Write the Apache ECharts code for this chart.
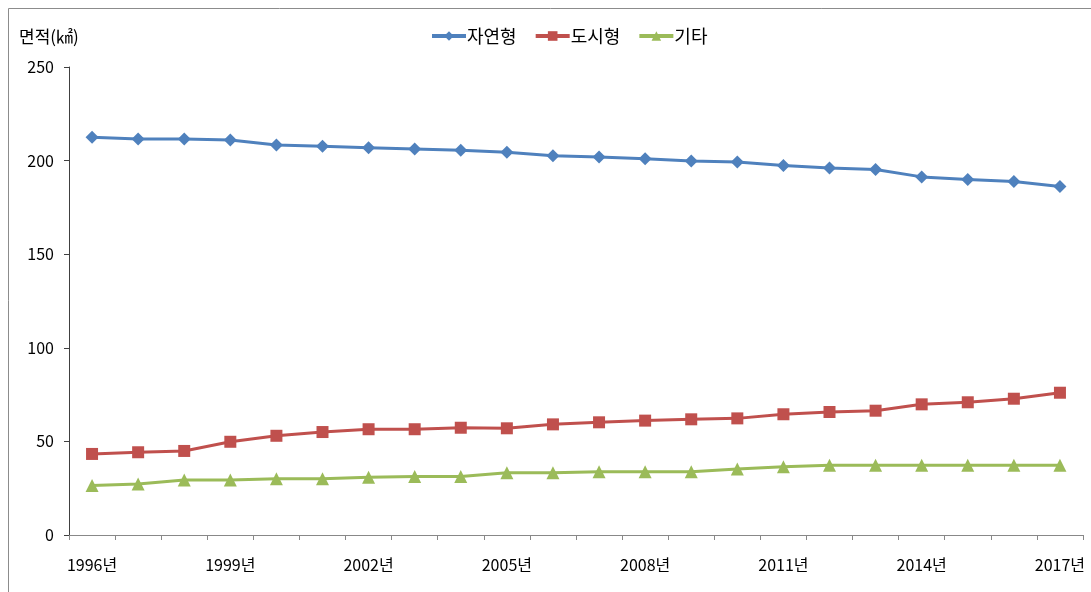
<!DOCTYPE html>
<html>
<head>
<meta charset="utf-8">
<script src="https://cdn.jsdelivr.net/npm/echarts@6/dist/echarts.min.js"></script>
<style>
html,body{margin:0;padding:0;background:#fff;}
#c{width:1091px;height:592px;}
</style>
</head>
<body>
<div id="c"></div>
<script>
const years = ['1996년','1997년','1998년','1999년','2000년','2001년','2002년','2003년','2004년','2005년','2006년','2007년','2008년','2009년','2010년','2011년','2012년','2013년','2014년','2015년','2016년','2017년'];
const natural = [212.5,211.5,211.5,211,208.3,207.6,206.9,206.2,205.5,204.4,202.6,201.9,201,199.8,199.2,197.4,196.0,195.3,191.3,189.9,188.8,186.2];
const urban = [43.3,44.2,44.9,49.8,53,55,56.5,56.5,57.3,57,59.1,60.2,61.1,61.8,62.3,64.5,65.7,66.4,69.8,70.9,72.8,76];
const other = [26.5,27.2,29.4,29.4,30.1,30.1,30.8,31.3,31.3,33.3,33.3,33.8,33.8,33.8,35.3,36.5,37.2,37.2,37.2,37.2,37.2,37.2];
const seriesNames = ['자연형','도시형','기타'];
const yTicks = {min:0, max:250, interval:50};

const font = '"Noto Sans CJK KR", "Noto Sans", sans-serif';
const chart = echarts.init(document.getElementById('c'));
chart.setOption({
  animation:false,
  backgroundColor:'#fff',
  textStyle:{fontFamily:font},
  graphic:[{type:'rect', shape:{x:8.5,y:8.5,width:1100,height:600}, style:{fill:'none',stroke:'#8c8c8c',lineWidth:1}, silent:true}],
  title:{text:'면적(㎢)', left:14, top:23, textStyle:{fontFamily:font,fontSize:17,fontWeight:'normal',color:'#000'}},
  legend:{top:22, left:425, itemWidth:34, itemHeight:12, itemGap:17,
    lineStyle:{width:4},
    textStyle:{fontFamily:font,fontSize:18,color:'#000', padding:[0,0,0,-4]},
    data:seriesNames},
  grid:{left:69, right:8, top:67, bottom:57, containLabel:false},
  xAxis:{type:'category', data:years, boundaryGap:true,
    axisLine:{lineStyle:{color:'#888',width:1}},
    axisTick:{show:true, interval:0, length:5, lineStyle:{color:'#888'}},
    axisLabel:{interval:2, color:'#000', fontSize:16, fontFamily:font, margin:22}},
  yAxis:{type:'value', min:yTicks.min, max:yTicks.max, interval:yTicks.interval,
    splitLine:{show:false},
    axisLine:{show:true, lineStyle:{color:'#404040',width:1}},
    axisTick:{show:true, length:5, lineStyle:{color:'#404040'}},
    axisLabel:{color:'#000', fontSize:16, fontFamily:font, margin:15}},
  series:[
    {name:seriesNames[0], type:'line', data:natural, symbol:'diamond', symbolSize:13,
      lineStyle:{color:'#4F81BD',width:3}, itemStyle:{color:'#4F81BD'}},
    {name:seriesNames[1], type:'line', data:urban, symbol:'rect', symbolSize:12,
      lineStyle:{color:'#C0504D',width:3}, itemStyle:{color:'#C0504D'}},
    {name:seriesNames[2], type:'line', data:other, symbol:'triangle', symbolSize:13,
      lineStyle:{color:'#9BBB59',width:3}, itemStyle:{color:'#9BBB59'}}
  ]
});
</script>
</body>
</html>
